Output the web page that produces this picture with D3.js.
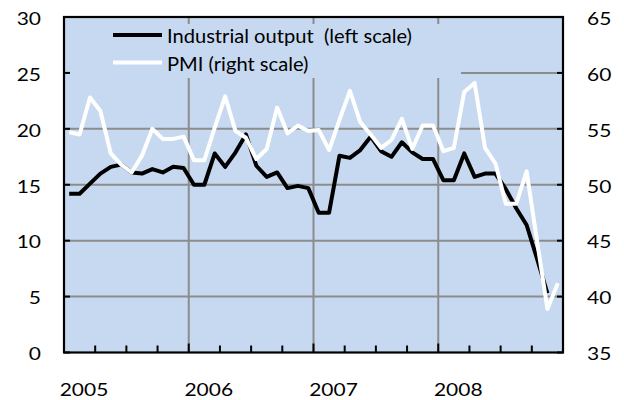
<!DOCTYPE html>
<html><head><meta charset="utf-8">
<script src="https://cdn.jsdelivr.net/npm/d3@7"></script>
<style>body{margin:0;background:#fff}svg{display:block}text{font-family:Lato,"Open Sans",sans-serif;fill:#000}</style>
</head><body><div id="chart"></div>
<script>
const years = ["2005","2006","2007","2008"];
const monthCount = 48;
const ipValues = [14.2,14.2,15.1,16.0,16.6,16.8,16.1,16.0,16.4,16.1,16.6,16.5,
  15.0,15.0,17.8,16.6,17.9,19.5,16.7,15.7,16.1,14.7,14.9,14.7,
  12.5,12.5,17.6,17.4,18.1,19.3,18.0,17.5,18.8,17.9,17.3,17.3,
  15.4,15.4,17.8,15.7,16.0,16.0,14.6,12.9,11.4,8.4,5.3];
const pmiValues = [54.7,54.5,57.8,56.6,52.8,51.8,51.1,52.6,55.0,54.1,54.1,54.3,
  52.2,52.2,55.1,57.9,54.8,54.2,52.3,53.2,56.9,54.6,55.3,54.8,
  54.9,53.1,55.8,58.4,55.6,54.5,53.3,54.0,55.9,53.2,55.3,55.3,
  53.0,53.3,58.3,59.1,53.3,51.9,48.3,48.3,51.2,45.0,38.9,41.2];
const leftTicks = [0,5,10,15,20,25,30];
const rightTicks = [35,40,45,50,55,60,65];
const legendLabels = ["Industrial output  (left scale)", "PMI (right scale)"];

const W = 624, H = 400;
const m = {l:64, r:563, t:17, b:352.5};
const svg = d3.select("#chart").append("svg").attr("width", W).attr("height", H);

const x = d3.scaleLinear().domain([0, monthCount]).range([m.l, m.r]);
const yL = d3.scaleLinear().domain([0, 30]).range([m.b, m.t]);
const yR = d3.scaleLinear().domain([35, 65]).range([m.b, m.t]);

svg.append("rect").attr("x", m.l).attr("y", m.t).attr("width", m.r - m.l).attr("height", m.b - m.t).attr("fill", "#C6D9F0");

// gridlines
const grid = svg.append("g").attr("stroke", "#8C8C8C").attr("stroke-width", 2);
grid.selectAll("line.h").data(leftTicks.slice(1, -1)).join("line")
  .attr("x1", m.l).attr("x2", m.r).attr("y1", d => yL(d)).attr("y2", d => yL(d));
grid.selectAll("line.v").data(years.slice(1)).join("line")
  .attr("x1", (d, i) => x((i + 1) * 12)).attr("x2", (d, i) => x((i + 1) * 12))
  .attr("y1", m.t).attr("y2", m.b);

// legend background hides gridlines
svg.append("rect").attr("x", m.l + 1).attr("y", 24).attr("width", 461 - m.l - 1).attr("height", 54).attr("fill", "#C6D9F0");

// axis ticks
const tk = svg.append("g").attr("stroke", "#000").attr("stroke-width", 2);
tk.selectAll("line.l").data(leftTicks).join("line")
  .attr("x1", m.l).attr("x2", m.l + 6).attr("y1", d => yL(d)).attr("y2", d => yL(d));
tk.selectAll("line.r").data(rightTicks).join("line")
  .attr("x1", m.r - 6).attr("x2", m.r).attr("y1", d => yR(d)).attr("y2", d => yR(d));
tk.selectAll("line.b").data(d3.range(0, monthCount + 1, 3)).join("line")
  .attr("x1", d => x(d)).attr("x2", d => x(d)).attr("y1", m.b).attr("y2", d => d % 12 === 0 ? m.b - 9 : m.b - 7);

// series
const lineL = d3.line().x((d, i) => x(i + 0.5)).y(d => yL(d)).curve(d3.curveLinear);
const lineR = d3.line().x((d, i) => x(i + 0.5)).y(d => yR(d)).curve(d3.curveLinear);
svg.append("path").attr("d", lineL(ipValues)).attr("fill", "none").attr("stroke", "#000").attr("stroke-width", 4).attr("stroke-linejoin", "round");
svg.append("path").attr("d", lineR(pmiValues)).attr("fill", "none").attr("stroke", "#fff").attr("stroke-width", 4).attr("stroke-linejoin", "round");

// frame
svg.append("rect").attr("x", m.l).attr("y", m.t).attr("width", m.r - m.l).attr("height", m.b - m.t)
  .attr("fill", "none").attr("stroke", "#000").attr("stroke-width", 2.2);

// labels
const FS = 16.5, SX = 1.27;
function lab(xp, yp, t, anchor) {
  svg.append("text").attr("transform", `translate(${xp},${yp}) scale(${SX},1)`)
    .attr("text-anchor", anchor).style("font-size", FS + "px").text(t);
}
leftTicks.forEach(d => lab(41, yL(d) + 7.8, d, "end"));
rightTicks.forEach(d => lab(587, yR(d) + 7.8, d, "start"));
years.forEach((d, i) => lab(x(i * 12) + 20, 396, d, "middle"));

// legend
const lg = svg.append("g");
const legY = [35, 62.5];
const legW = [245, 141.5];
lg.selectAll("line").data(legendLabels).join("line")
  .attr("x1", 113).attr("x2", 162).attr("y1", (d, i) => legY[i]).attr("y2", (d, i) => legY[i])
  .attr("stroke", (d, i) => i === 0 ? "#000" : "#fff").attr("stroke-width", 4);
lg.selectAll("text").data(legendLabels).join("text")
  .attr("x", 167).attr("y", (d, i) => legY[i] + 8.3)
  .attr("xml:space", "preserve").style("white-space", "pre")
  .attr("textLength", (d, i) => legW[i]).attr("lengthAdjust", "spacingAndGlyphs")
  .style("font-size", "18.5px").text(d => d);
</script></body></html>
